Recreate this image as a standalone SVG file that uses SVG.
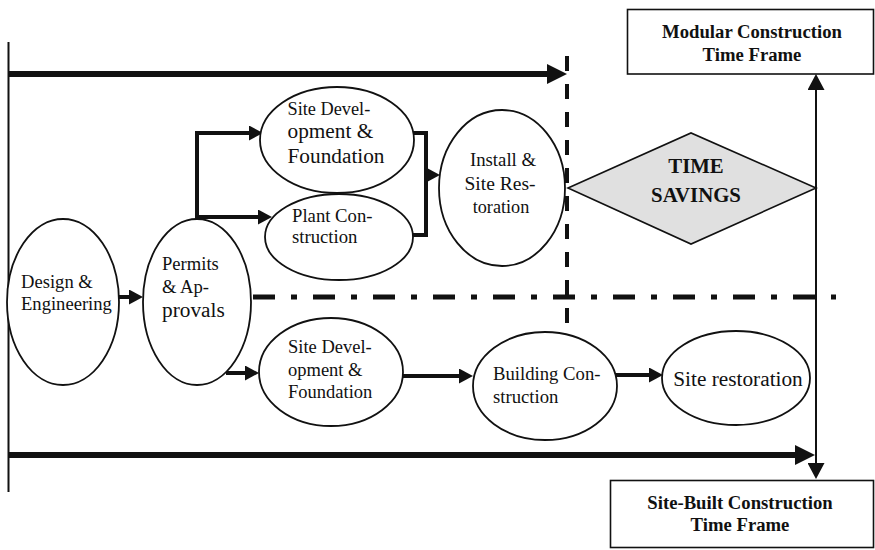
<svg xmlns="http://www.w3.org/2000/svg" width="875" height="550" viewBox="0 0 875 550">
<style>
.bg{fill:#ffffff}
.node{fill:#ffffff;stroke:#111;stroke-width:1.8}
.box{fill:#ffffff;stroke:#111;stroke-width:1.6}
.dia{fill:#e0e0e0;stroke:#111;stroke-width:1.6}
.t{font-family:"Liberation Serif","Times New Roman",serif;fill:#111}
.b{font-family:"Liberation Serif","Times New Roman",serif;font-weight:bold;fill:#111}
.c{fill:none;stroke:#111;stroke-width:4}
.thick{fill:none;stroke:#111;stroke-width:6}
.thin{fill:none;stroke:#111;stroke-width:2}
.dash{fill:none;stroke:#111;stroke-width:4;stroke-dasharray:15 13}
.dashdot{fill:none;stroke:#111;stroke-width:5;stroke-dasharray:22 16 6 16}
</style>
<defs>
<marker id="ah" markerUnits="userSpaceOnUse" markerWidth="14" markerHeight="15" refX="0" refY="7.5" orient="auto">
<path d="M0,0 L14,7.5 L0,15 Z" fill="#111"/>
</marker>
<marker id="ahBig" markerUnits="userSpaceOnUse" markerWidth="20" markerHeight="20" refX="0" refY="10" orient="auto">
<path d="M0,0 L20,10 L0,20 Z" fill="#111"/>
</marker>
<marker id="ahV" markerUnits="userSpaceOnUse" markerWidth="16" markerHeight="17" refX="0" refY="8.5" orient="auto-start-reverse">
<path d="M0,0 L16,8.5 L0,17 Z" fill="#111"/>
</marker>
</defs>
<rect class="bg" x="0" y="0" width="875" height="550"/>

<g id="connectors">
<line class="thin" x1="8.5" y1="42" x2="8.5" y2="492"/>
<path class="thick" d="M8,74 H547" marker-end="url(#ahBig)"/>
<path class="thick" d="M8,455 H795" marker-end="url(#ahBig)"/>
<path class="thin" d="M816,90 V463" marker-start="url(#ahV)" marker-end="url(#ahV)"/>
<line class="dash" x1="567" y1="56" x2="567" y2="328"/>
<line class="dashdot" x1="253" y1="297" x2="836" y2="297"/>
<path class="c" d="M118,297 H129" marker-end="url(#ah)"/>
<path class="c" d="M197,219 V133 H249" marker-end="url(#ah)"/>
<path class="c" d="M197,217 H258" marker-end="url(#ah)"/>
<path class="c" d="M413,133 H426 V235 H413"/>
<path class="c" d="M424,175 H426" marker-end="url(#ah)"/>
<path class="c" d="M226,373 H245" marker-end="url(#ah)"/>
<path class="c" d="M403,376 H459" marker-end="url(#ah)"/>
<path class="c" d="M613,375 H649" marker-end="url(#ah)"/>
</g>

<g id="design">
<ellipse class="node" cx="63" cy="302" rx="56" ry="83"/>
<text class="t" font-size="18.6" x="21" y="288">Design &amp;</text>
<text class="t" font-size="18.6" x="21" y="310">Engineering</text>
</g>

<g id="permits">
<ellipse class="node" cx="197" cy="302" rx="54" ry="83"/>
<text class="t" font-size="18.6" x="162" y="270">Permits</text>
<text class="t" font-size="18.6" x="162" y="293">&amp; Ap-</text>
<text class="t" font-size="21.3" x="162" y="317">provals</text>
</g>

<g id="site-dev-top">
<ellipse class="node" cx="337" cy="140" rx="77" ry="53"/>
<text class="t" font-size="18.3" x="287.5" y="115">Site Devel-</text>
<text class="t" font-size="21.3" x="287.5" y="138">opment &amp;</text>
<text class="t" font-size="21.3" x="287.5" y="163">Foundation</text>
</g>

<g id="plant">
<ellipse class="node" cx="339" cy="237" rx="74" ry="43"/>
<text class="t" font-size="18.7" x="292" y="222">Plant Con-</text>
<text class="t" font-size="18.7" x="292" y="243">struction</text>
</g>

<g id="install">
<ellipse class="node" cx="502" cy="188" rx="63" ry="78"/>
<text class="t" font-size="18.8" x="503" y="166" text-anchor="middle">Install &amp;</text>
<text class="t" font-size="19.5" x="500" y="190" text-anchor="middle">Site Res-</text>
<text class="t" font-size="18.2" x="501" y="213" text-anchor="middle">toration</text>
</g>

<g id="time-savings">
<polygon class="dia" points="568,188 691,133 816,188 691,244"/>
<text class="b" font-size="20.8" x="696" y="173" text-anchor="middle">TIME</text>
<text class="b" font-size="20.8" x="696" y="202" text-anchor="middle">SAVINGS</text>
</g>

<g id="modular">
<rect class="box" x="627.5" y="9.5" width="246" height="64.5"/>
<text class="b" font-size="18.7" x="752" y="38" text-anchor="middle">Modular Construction</text>
<text class="b" font-size="18.7" x="752" y="61" text-anchor="middle">Time Frame</text>
</g>

<g id="site-dev-bottom">
<ellipse class="node" cx="331" cy="372" rx="72" ry="54"/>
<text class="t" font-size="18.5" x="288" y="353">Site Devel-</text>
<text class="t" font-size="18.5" x="288" y="376">opment &amp;</text>
<text class="t" font-size="18.5" x="288" y="398">Foundation</text>
</g>

<g id="building">
<ellipse class="node" cx="545" cy="386" rx="72" ry="54"/>
<text class="t" font-size="18.7" x="493" y="380">Building Con-</text>
<text class="t" font-size="18.7" x="493" y="403">struction</text>
</g>

<g id="site-restoration">
<ellipse class="node" cx="736" cy="378" rx="74" ry="47"/>
<text class="t" font-size="21.3" x="738" y="386" text-anchor="middle">Site restoration</text>
</g>

<g id="site-built">
<rect class="box" x="610.5" y="480.5" width="263" height="67"/>
<text class="b" font-size="18.7" x="740" y="509" text-anchor="middle">Site-Built Construction</text>
<text class="b" font-size="18.7" x="740" y="531" text-anchor="middle">Time Frame</text>
</g>
</svg>
